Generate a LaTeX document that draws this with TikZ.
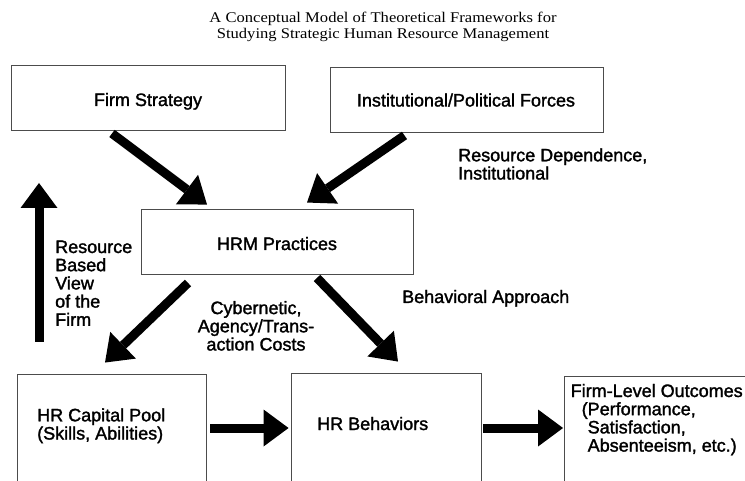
\documentclass[tikz,border=0pt]{standalone}
\usepackage{fontspec}
\usetikzlibrary{arrows.meta}
\newfontfamily\lblfont[FakeBold=1.6]{Liberation Sans}
\newfontfamily\titlefont[FakeStretch=1.12]{Liberation Serif}
\tikzset{
  box/.style={draw=black!70, line width=0.9pt, inner sep=0pt},
  lbl/.style={font=\lblfont\fontsize{18}{18.2}\selectfont, inner sep=0pt},
  ttl/.style={font=\titlefont\fontsize{14.8}{16.5}\selectfont, inner sep=0pt, align=center},
  bigarrow/.style={line width=9pt, -{Triangle[length=25pt,width=37pt,line width=0pt]}}
}
\begin{document}
\begin{tikzpicture}[x=1pt,y=-1pt]
\useasboundingbox (0,0) rectangle (745,481);

% title (multi-line nodes are anchored on the baseline of their last line)
\node[ttl, anchor=base] (title) at (383,39)
  {A Conceptual Model of Theoretical Frameworks for\\Studying Strategic Human Resource Management};

% boxes
\node[box, minimum width=274pt, minimum height=65pt] (fs)   at (148,97.5) {};
\node[box, minimum width=273pt, minimum height=65pt] (inst) at (466.5,99.5) {};
\node[box, minimum width=272pt, minimum height=65pt] (hrm)  at (277,242) {};
\node[box, minimum width=189pt, minimum height=130pt] (cap) at (111.5,439) {};
\node[box, minimum width=190pt, minimum height=130pt] (beh) at (386,438) {};
\node[box, minimum width=200pt, minimum height=130pt] (out) at (664,441) {};

% box texts
\node[lbl, anchor=base] (fst) at (148,106) {Firm Strategy};
\node[lbl, anchor=base] (instt) at (466,106.5) {Institutional/Political Forces};
\node[lbl, anchor=base] (hrmt) at (277,250) {HRM Practices};
\node[lbl, anchor=base west, align=left] (capt) at (37,439.5) {HR Capital Pool\\(Skills, Abilities)};
\node[lbl, anchor=base west] (beht) at (317,430) {HR Behaviors};
\node[lbl, anchor=base west, align=left] (outt) at (570.5,451.6)
  {Firm-Level Outcomes\\\hspace*{11pt}(Performance,\\\hspace*{17pt}Satisfaction,\\\hspace*{17pt}Absenteeism, etc.)};

% framework labels
\node[lbl, anchor=base west, align=left] (rdep) at (458,179.5) {Resource Dependence,\\Institutional};
\node[lbl, anchor=base west, align=left] (rbv) at (55,325.8) {Resource\\Based\\View\\of the\\Firm};
\node[lbl, anchor=base west] (beha) at (402,303) {Behavioral Approach};
\node[lbl, anchor=base, align=center] (cyb) at (256,350.5) {Cybernetic,\\Agency/Trans-\\action Costs};

% arrows
\draw[bigarrow] ([xshift=-36pt,yshift=-3pt]fs.south) -- ([xshift=-70pt,yshift=4.5pt]hrm.north);
\draw[bigarrow] ([xshift=-62pt,yshift=-3pt]inst.south) -- ([xshift=30pt,yshift=6.5pt]hrm.north);
\draw[bigarrow] ([xshift=-89pt,yshift=-8pt]hrm.south) -- ([xshift=-6.5pt,yshift=11pt]cap.north);
\draw[bigarrow] ([xshift=40pt,yshift=-3pt]hrm.south) -- ([xshift=12pt,yshift=11pt]beh.north);
\coordinate (rbvlow) at (39,342);
\coordinate (rbvtop) at (39,183);
\draw[bigarrow] (rbvlow) -- (rbvtop);
\coordinate (flow) at (0,428);
\draw[bigarrow] ([xshift=4pt]cap.east |- flow) -- ([xshift=-2pt]beh.west |- flow);
\draw[bigarrow] ([xshift=2pt]beh.east |- flow) -- ([xshift=-0.5pt]out.west |- flow);
\end{tikzpicture}
\end{document}
